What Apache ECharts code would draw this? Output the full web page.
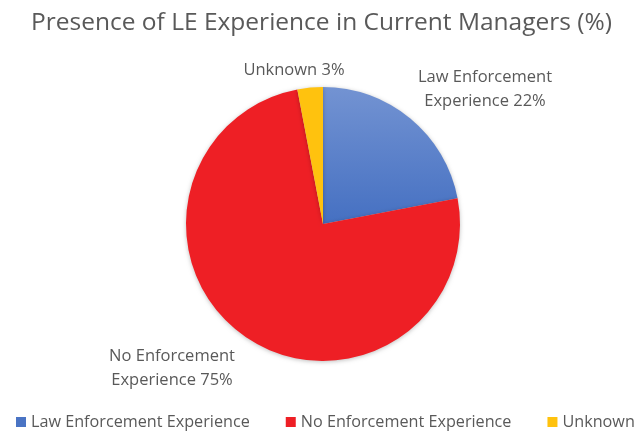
<!DOCTYPE html>
<html>
<head>
<meta charset="utf-8">
<script src="https://cdn.jsdelivr.net/npm/echarts@6/dist/echarts.min.js"></script>
<style>
  html, body { margin: 0; padding: 0; background: #fff; }
  #chart { width: 643px; height: 435px; }
</style>
</head>
<body>
<div id="chart"></div>
<script>
// slices, clockwise from 12 o'clock
const categories = ['Law Enforcement Experience', 'No Enforcement Experience', 'Unknown'];
const shortLabels = ['Law Enforcement\nExperience', 'No Enforcement\nExperience', 'Unknown'];
const values = [22, 75, 3];
const colors = [
    { type: 'linear', x: 0, y: 0, x2: 0, y2: 1, colorStops: [{ offset: 0, color: '#7393d2' }, { offset: 1, color: '#4570c2' }] },
    '#ee1f25',
    '#ffc20e'
];
const legendColors = ['#4a74c4', '#ee1f25', '#ffc20e'];

// label anchor spots (text centre) around the pie
const labelSpots = [[485, 89], [172, 368], [294, 70]];

const font = 'Open Sans';
const chart = echarts.init(document.getElementById('chart'));

chart.setOption({
    animation: false,
    title: {
        text: 'Presence of LE Experience in Current Managers (%)',
        left: 'center',
        top: 6,
        textStyle: { fontFamily: font, fontSize: 24.5, fontWeight: 'normal', color: '#595959' }
    },
    legend: {
        bottom: 0,
        left: 11,
        width: 643,
        icon: 'rect',
        itemWidth: 10,
        itemHeight: 10,
        itemGap: 36,
        textStyle: { fontFamily: font, fontSize: 16.2, color: '#595959' },
        data: categories.map((c, i) => ({ name: c, itemStyle: { color: legendColors[i] } }))
    },
    series: [{
        type: 'pie',
        center: [323, 224],
        radius: 137,
        startAngle: 90,
        clockwise: true,
        itemStyle: { shadowBlur: 4, shadowColor: 'rgba(0,0,0,0.25)', shadowOffsetY: 1 },
        label: {
            show: true,
            position: 'outside',
            fontFamily: font,
            fontSize: 16.5,
            lineHeight: 24,
            color: '#595959',
            align: 'center',
            formatter: p => shortLabels[p.dataIndex] + ' ' + p.value + '%'
        },
        labelLine: { show: false },
        labelLayout: p => ({ x: labelSpots[p.dataIndex][0], y: labelSpots[p.dataIndex][1], align: 'center', verticalAlign: 'middle' }),
        data: categories.map((c, i) => ({ name: c, value: values[i], itemStyle: { color: colors[i] } }))
    }]
});
</script>
</body>
</html>
